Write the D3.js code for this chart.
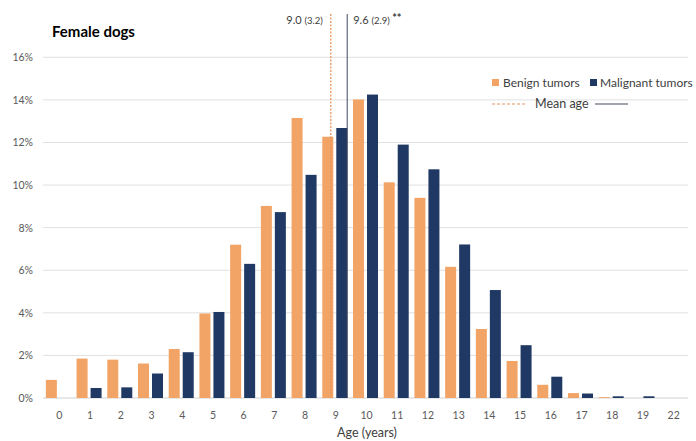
<!DOCTYPE html>
<html>
<head>
<meta charset="utf-8">
<script src="https://cdn.jsdelivr.net/npm/d3@7/dist/d3.min.js"></script>
<style>
  html, body { margin: 0; padding: 0; background: #fff; }
  svg { display: block; font-family: Lato, "Open Sans", sans-serif; }
</style>
</head>
<body>
<svg id="chart" width="696" height="441"></svg>
<script>
// ---- data ----
const ages = ["0","1","2","3","4","5","6","7","8","9","10","11","12","13","14","15","16","17","18","19","22"];
const benign =    [0.85, 1.85, 1.8, 1.62, 2.3, 3.97, 7.2, 9.02, 13.15, 12.27, 14.02, 10.13, 9.4, 6.16, 3.24, 1.74, 0.62, 0.23, 0.04, 0, 0];
const malignant = [0,    0.47, 0.5, 1.15, 2.15, 4.04, 6.3, 8.73, 10.48, 12.68, 14.25, 11.9, 10.74, 7.21, 5.07, 2.48, 1.0, 0.21, 0.08, 0.08, 0];
const yTicks = [0, 2, 4, 6, 8, 10, 12, 14, 16];
const meanBenign = 9.0, sdBenign = 3.2;
const meanMalignant = 9.6, sdMalignant = 2.9;
const seriesNames = ["Benign tumors", "Malignant tumors"];
const colors = ["#F2A466", "#1F3864"];

// ---- layout ----
const svg = d3.select("#chart");
const mLeft = 43, mRight = 688, mTop = 57.3, mBottom = 398;

const x = d3.scaleBand().domain(ages).range([mLeft, mRight]).paddingInner(0).paddingOuter(0);
const y = d3.scaleLinear().domain([0, 16]).range([mBottom, mTop]);
const step = x.bandwidth();
const barW = 11, gap = 3;
const pairW = barW * 2 + gap;
// age scale for mean lines (index space)
const xAge = d3.scaleLinear().domain([0, 20]).range([x("0") + step / 2 - 4, x("22") + step / 2 - 4]);

// gridlines
svg.append("g").selectAll("line").data(yTicks).join("line")
  .attr("x1", mLeft).attr("x2", mRight)
  .attr("y1", d => y(d)).attr("y2", d => y(d))
  .attr("stroke", d => d === 0 ? "#d0d0d0" : "#e0e0e0").attr("stroke-width", 1);

// y labels
svg.append("g").selectAll("text").data(yTicks).join("text")
  .attr("x", 33).attr("y", d => y(d) + 4)
  .attr("text-anchor", "end").attr("font-size", 10.5).attr("fill", "#595959")
  .text(d => d + "%");

// bars
const g = svg.append("g");
g.selectAll("rect.b").data(ages).join("rect").attr("class", "b")
  .attr("x", d => x(d) + (step - pairW) / 2)
  .attr("width", barW)
  .attr("y", (d, i) => y(benign[i]))
  .attr("height", (d, i) => y(0) - y(benign[i]))
  .attr("fill", colors[0]);
g.selectAll("rect.m").data(ages).join("rect").attr("class", "m")
  .attr("x", d => x(d) + (step - pairW) / 2 + barW + gap)
  .attr("width", barW)
  .attr("y", (d, i) => y(malignant[i]))
  .attr("height", (d, i) => y(0) - y(malignant[i]))
  .attr("fill", colors[1]);

// x labels
svg.append("g").selectAll("text").data(ages).join("text")
  .attr("x", d => x(d) + step / 2 + 1).attr("y", 419)
  .attr("text-anchor", "middle").attr("font-size", 10.5).attr("fill", "#595959")
  .text(d => d);

svg.append("text").attr("x", 367).attr("y", 437)
  .attr("text-anchor", "middle").attr("font-size", 12.5).attr("fill", "#404040")
  .text("Age (years)");

// title
svg.append("text").attr("x", 52).attr("y", 37)
  .attr("font-size", 15).attr("font-weight", "bold").attr("fill", "#000")
  .text("Female dogs");

// mean lines
svg.append("line")
  .attr("x1", xAge(meanBenign)).attr("x2", xAge(meanBenign))
  .attr("y1", 14).attr("y2", mBottom)
  .attr("stroke", "#E8945A").attr("stroke-width", 1.3).attr("stroke-dasharray", "2,1.5");
svg.append("line")
  .attr("x1", xAge(meanMalignant) - 2).attr("x2", xAge(meanMalignant) - 2)
  .attr("y1", 14).attr("y2", mBottom)
  .attr("stroke", "#404a60").attr("stroke-width", 1);

// mean labels
const t1 = svg.append("text").attr("x", xAge(meanBenign) - 8).attr("y", 24)
  .attr("text-anchor", "end").attr("fill", "#404040");
t1.append("tspan").attr("font-size", 11).text(meanBenign.toFixed(1) + " ");
t1.append("tspan").attr("font-size", 9.5).text("(" + sdBenign.toFixed(1) + ")");

const t2 = svg.append("text").attr("x", xAge(meanMalignant) + 4).attr("y", 24)
  .attr("fill", "#404040");
t2.append("tspan").attr("font-size", 11).text(meanMalignant.toFixed(1) + " ");
t2.append("tspan").attr("font-size", 9.5).text("(" + sdMalignant.toFixed(1) + ") ");
t2.append("tspan").attr("font-size", 11).attr("font-weight", "bold").attr("dy", -2).text("**");

// legend
const lg = svg.append("g").attr("font-size", 12).attr("fill", "#404040");
lg.append("rect").attr("x", 492).attr("y", 79).attr("width", 7).attr("height", 7).attr("fill", colors[0]);
lg.append("text").attr("x", 503).attr("y", 87).text(seriesNames[0]);
lg.append("rect").attr("x", 590).attr("y", 79).attr("width", 7).attr("height", 7).attr("fill", colors[1]);
lg.append("text").attr("x", 600).attr("y", 87).text(seriesNames[1]);
lg.append("line").attr("x1", 492).attr("x2", 525).attr("y1", 104).attr("y2", 104)
  .attr("stroke", "#E8945A").attr("stroke-width", 1.2).attr("stroke-dasharray", "3,2");
lg.append("text").attr("x", 535).attr("y", 108).attr("font-size", 12.5).text("Mean age");
lg.append("line").attr("x1", 595).attr("x2", 628).attr("y1", 104).attr("y2", 104)
  .attr("stroke", "#404a60").attr("stroke-width", 1.2);
</script>
</body>
</html>
